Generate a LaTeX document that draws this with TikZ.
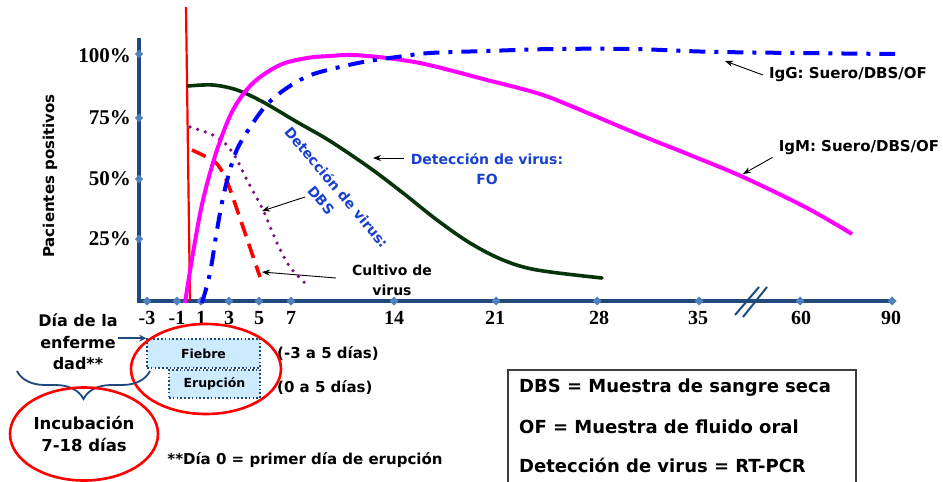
\documentclass[tikz,border=0pt]{standalone}
\usepackage{fontspec}
\setmainfont{DejaVu Sans}
\newfontfamily\tms{Liberation Serif}
\usetikzlibrary{arrows.meta,decorations.pathreplacing,shapes.geometric}
\definecolor{axisblue}{RGB}{31,73,125}
\definecolor{tickblue}{RGB}{79,129,189}
\definecolor{fgreen}{RGB}{8,52,12}
\definecolor{dpurple}{RGB}{125,15,125}
\definecolor{lblue}{RGB}{205,235,255}
\definecolor{lblblue}{RGB}{25,65,205}
\definecolor{igblue}{RGB}{0,0,255}
\definecolor{mag}{RGB}{255,0,255}
\definecolor{boxgray}{RGB}{60,60,60}
\begin{document}
\begin{tikzpicture}[x=1pt,y=-1pt,
  lbl/.style={font=\fontsize{15}{18}\selectfont\bfseries, align=center, inner sep=0pt},
  bluelbl/.style={font=\fontsize{14}{20}\selectfont\bfseries, text=lblblue, align=center, inner sep=0pt},
  blklbl/.style={font=\fontsize{14}{20}\selectfont\bfseries, align=center, inner sep=0pt},
  ticklbl/.style={font=\tms\fontsize{20}{20}\selectfont\bfseries, inner sep=0pt},
  ylbl/.style={font=\tms\fontsize{21}{21}\selectfont\bfseries, inner sep=0pt, anchor=east},
  note/.style={-{Stealth[length=8pt,width=6pt]}, line width=0.9pt, black},
  daybox/.style={draw=axisblue, fill=lblue, line width=1.6pt, dash pattern=on 1.6pt off 2.2pt, inner sep=0pt, font=\fontsize{12.5}{14}\selectfont\bfseries},
  redring/.style={ellipse, draw=red, line width=2.6pt, inner sep=0pt},
  legtxt/.style={font=\fontsize{18}{20}\selectfont\bfseries, anchor=west, inner sep=0pt}
]
\useasboundingbox (0,0) rectangle (943,482);

% axes
\draw[axisblue, line width=3.5pt] (139,38) -- (139,303);
\draw[axisblue, line width=3.5pt] (137,301) -- (895,301);
\foreach \y in {54,118,179,239}
  \fill[tickblue] (139,\y) +(0,-4.5) -- +(4,0) -- +(0,4.5) -- +(-4,0) -- cycle;
\foreach \x in {147,177,201,229,259,291,394,496,597,699,800,892}
  \fill[tickblue] (\x,301) +(0,-4.5) -- +(4.5,0) -- +(0,4.5) -- +(-4.5,0) -- cycle;
% axis break
\draw[axisblue, line width=2pt] (735,315) -- (759,287);
\draw[axisblue, line width=2pt] (743,317) -- (767,287);

% y tick labels
\node[ylbl] (y100) at (131,56) {100\%};
\node[ylbl] (y75) at (131,118) {75\%};
\node[ylbl] (y50) at (131,179) {50\%};
\node[ylbl] (y25) at (131,239) {25\%};
\node[lbl, rotate=90] (ylab) at (50,176) {Pacientes positivos};

% x tick labels
\foreach \x/\t [count=\i] in {147/-3,177/-1,201/1,229/3,259/5,291/7,394/14,495/21,599/28,698/35,801/60,891/90}
  \node[ticklbl] (xt\i) at (\x,318) {\t};

% red vertical line
\draw[red, line width=2.2pt] (186,7) -- (190,301);

% curves
\draw[fgreen, line width=3.6pt, line cap=round] plot[smooth, tension=0.55] coordinates
  {(188,86) (213,85) (237,90) (263,102) (297,122) (330,141) (370,168) (403,193) (437,220) (470,243) (503,260) (537,270) (602,278)};
\draw[dpurple, line width=3.6pt, line cap=round, dash pattern=on 0pt off 8pt] plot[smooth, tension=0.55] coordinates
  {(190,127) (217,137) (233,153) (247,180) (263,210) (277,243) (290,267) (305,283)};
\draw[red, line width=3.6pt, dash pattern=on 15pt off 8pt] plot[smooth, tension=0.5] coordinates
  {(192,150) (215,162) (225,177) (232,195) (243,227) (260,277)};
\draw[mag, line width=4pt] plot[smooth, tension=0.55] coordinates
  {(185,303) (193,253) (203,200) (217,150) (233,110) (253,83) (280,65) (307,58) (330,56) (353,55) (387,58) (420,63) (453,71) (487,80) (540,94) (583,111) (640,135) (690,155) (743,177) (807,208) (852,234)};
\draw[igblue, line width=4pt, dash pattern=on 16pt off 9pt on 4pt off 9pt] plot[smooth, tension=0.55] coordinates
  {(202,303) (210,273) (217,230) (224,193) (233,160) (242,140) (263,109) (280,93) (300,80) (320,72) (363,62) (397,57) (430,53) (487,51) (553,49) (633,49) (720,52) (895,54)};

% curve labels
\coordinate (iggpt) at (725,61);
\coordinate (igmpt) at (743,174);
\coordinate (fopt) at (373,158);
\coordinate (dbspt) at (262,211);
\coordinate (cultpt) at (262,272);
\node[lbl] (igg) at (848,75) {IgG: Suero/DBS/OF};
\node[lbl] (igm) at (859,148) {IgM: Suero/DBS/OF};
\node[bluelbl] (fo) at (487,169) {Detección de virus:\\FO};
\node[bluelbl, rotate=-50] (dbs) at (329,193.5) {Detección de virus:\\DBS};
\node[blklbl] (cult) at (392,280) {Cultivo de\\virus};
\draw[note] ([xshift=-6pt]igg.west) -- (iggpt);
\draw[note] ([xshift=-6pt,yshift=-2pt]igm.south west) -- (igmpt);
\draw[note] ([xshift=-7pt,yshift=11pt]fo.west) -- (fopt);
\draw[note] ([shift={(-24,3.5)}]dbs.center) -- (dbspt);
\draw[note] ([xshift=-16pt,yshift=2pt]cult.west) -- (cultpt);

% bottom part
\node[font=\fontsize{16}{21.5}\selectfont\bfseries, align=center, inner sep=0pt] (dia) at (78,342) {Día de la\\enferme\\dad**};
\node[daybox, minimum width=113pt, minimum height=29pt] (fiebre) at (203.5,353.5) {Fiebre};
\node[daybox, minimum width=91pt, minimum height=28pt] (erup) at (214.5,384) {Erupción};
\draw[axisblue, line width=2pt, -{Stealth[length=7pt,width=7pt]}] (dia.east |- fiebre.north west) -- (fiebre.north west);
\node[lbl, anchor=west] (fr) at (277,353) {(-3 a 5 días)};
\node[lbl, anchor=west] (er) at (277,387) {(0 a 5 días)};
\node[redring, minimum width=150pt, minimum height=90pt] (ring1) at (206,369) {};
\draw[axisblue, line width=1.8pt, decorate, decoration={brace, amplitude=28pt, mirror}] (17,371) -- (150,371);
\node[redring, minimum width=148pt, minimum height=93pt, font=\fontsize{16.5}{22}\selectfont\bfseries, align=center] (incub) at (84,434) {Incubación\\7-18 días};
\node[lbl] (note0) at (305,460) {**Día 0 = primer día de erupción};

% legend
\draw[boxgray, line width=1.2pt] (508,495) -- (508,370) -- (856,370) -- (856,495);
\node[legtxt] (l1) at (519,388) {DBS = Muestra de sangre seca};
\node[legtxt] (l2) at (519,427) {OF = Muestra de fluido oral};
\node[legtxt] (l3) at (519,465) {Detección de virus = RT-PCR};
\end{tikzpicture}
\end{document}
